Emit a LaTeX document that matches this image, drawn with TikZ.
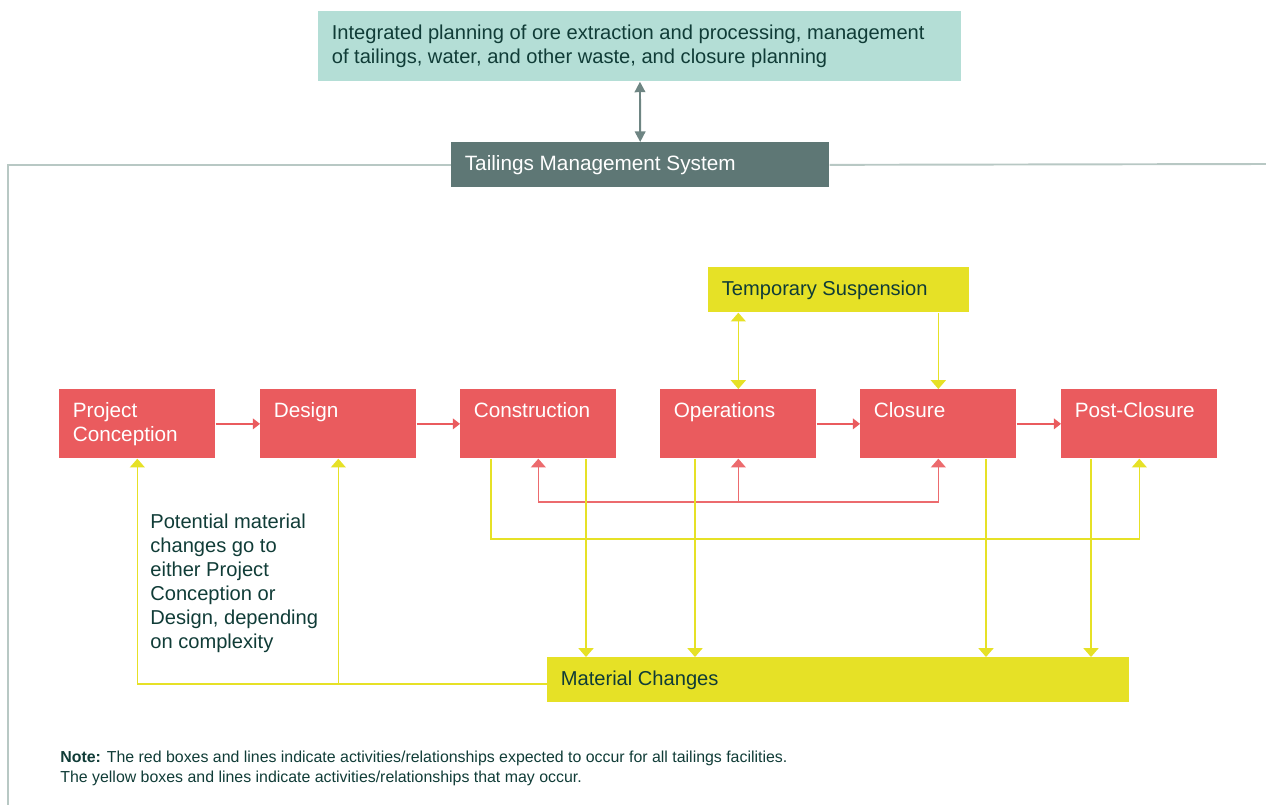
\documentclass[tikz,border=0pt]{standalone}
\usepackage{fontspec}
\setmainfont{Liberation Sans}
\usetikzlibrary{arrows.meta,positioning,calc}
\definecolor{plancolor}{RGB}{180,222,214}
\definecolor{tmscolor}{RGB}{94,119,117}
\definecolor{phasecolor}{RGB}{234,91,94}
\definecolor{maycolor}{RGB}{230,225,38}
\definecolor{inkcolor}{RGB}{16,60,55}
\definecolor{framecolor}{RGB}{184,200,196}

\begin{document}
\begin{tikzpicture}[
    x=0.02cm, y=-0.02cm,
    font=\fontsize{11.45}{13.6}\selectfont,
    box/.style={rectangle, inner sep=0pt, anchor=north west},
    phase/.style={box, fill=phasecolor, minimum width=3.12cm, minimum height=1.38cm},
    boxtext/.style={anchor=north west, inner xsep=0.27cm, inner ysep=0.27cm, align=left, text=inkcolor},
    whitetext/.style={boxtext, text=white, font=\fontsize{11.8}{13.6}\selectfont},
    phaseflow/.style={->, >={Triangle[width=6pt,length=4pt]}, phasecolor, line width=0.8pt},
    phasefeed/.style={->, >={Triangle[width=8.5pt,length=5pt]}, phasecolor!90!white, line width=0.8pt},
    mayflow/.style={->, >={Triangle[width=8.5pt,length=5pt]}, maycolor, line width=0.8pt},
    tmsflow/.style={->, >={Triangle[width=6pt,length=6pt]}, tmscolor!90!white, line width=1.1pt},
    frame/.style={framecolor, line width=1.1pt}
]
\useasboundingbox (0,0) rectangle (1266,805);

% Planning and management system
\node[box, fill=plancolor, minimum width=12.86cm, minimum height=1.4cm] (plan) at (318,11) {};
\node[boxtext] (plan-t) at (plan.north west) {Integrated planning of ore extraction and processing, management\\of tailings, water, and other waste, and closure planning};
\node[box, fill=tmscolor, minimum width=7.56cm, minimum height=0.9cm] (tms) at (451,142) {};
\node[whitetext] (tms-t) at (tms.north west) {Tailings Management System};
\draw[tmsflow, <->] (plan) -- (tms);

% Frame round the lifecycle
\coordinate (frameR) at (1266,164);
\coordinate (frameB) at (8,805);
\draw[frame] (tms.west) -| (frameB);
\draw[frame] (tms.east) -- (frameR);

% Lifecycle phases
\foreach \name/\x/\txt in {pc/59/{Project\\Conception}, design/260/Design, constr/460/Construction,
    ops/660/Operations, closure/860/Closure, post/1061/Post-Closure} {
    \node[phase] (\name) at (\x,389) {};
    \node[whitetext] (\name-t) at (\name.north west) {\txt};
}

% Optional boxes
\node[box, fill=maycolor, minimum width=5.22cm, minimum height=0.9cm] (ts) at (708,267) {};
\node[boxtext] (ts-t) at (ts.north west) {Temporary Suspension};
\node[box, fill=maycolor, minimum width=11.64cm, minimum height=0.9cm] (mat) at (547,657) {};
\node[boxtext] (mat-t) at (mat.north west) {Material Changes};

% Expected flow
\draw[phaseflow] (pc) -- (design);
\draw[phaseflow] (design) -- (constr);
\draw[phaseflow] (ops) -- (closure);
\draw[phaseflow] (closure) -- (post);

% Expected returns below the phases
\coordinate (rbus) at (0,502);
\draw[phasefeed, <->] (constr.south) -- (constr.south |- rbus) -| (closure.south);
\draw[phasefeed] (ops.south |- rbus) -- (ops.south);

% Temporary suspension
\draw[mayflow, <->] (ts.south -| ops.north) -- (ops.north);
\draw[mayflow] (ts.south -| closure.north) -- (closure.north);

% Construction straight to post-closure
\coordinate (ybus) at (0,539);
\draw[mayflow] ($(constr.south west)+(31,0)$) |- (ybus -| post.south) -- (post.south);

% Material changes
\foreach \src/\dx in {constr/126, ops/35, closure/126, post/30} {
    \coordinate (drop) at ($(\src.south west)+(\dx,0)$);
    \draw[mayflow] (drop) -- (drop |- mat.north);
}
\coordinate (back) at ($(mat.west)+(0,4)$);
\draw[mayflow] (back) -| (pc.south);
\draw[mayflow] (back -| design.south) -- (design.south);

\node[anchor=north west, inner sep=0pt, align=left, text=inkcolor] (hint) at (150,514) {Potential material\\changes go to\\either Project\\Conception or\\Design, depending\\on complexity};

% Note
\node[anchor=north west, inner sep=0pt, align=left, text=inkcolor, font=\fontsize{9.05}{11.3}\selectfont] (note) at (60,751)
    {\textbf{Note:} The red boxes and lines indicate activities/relationships expected to occur for all tailings facilities.\\
     The yellow boxes and lines indicate activities/relationships that may occur.};

\end{tikzpicture}
\end{document}
